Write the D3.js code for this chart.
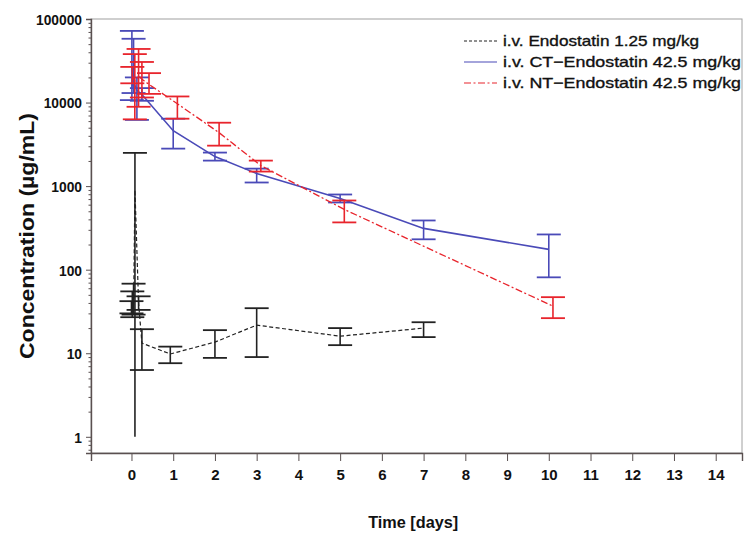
<!DOCTYPE html>
<html>
<head>
<meta charset="utf-8">
<script src="https://cdn.jsdelivr.net/npm/d3@7"></script>
<style>
  html, body { margin: 0; padding: 0; background: #fff; }
  svg { display: block; font-family: "Liberation Sans", Arial, Helvetica, sans-serif; }
</style>
</head>
<body>
<svg id="chart" width="750" height="535"></svg>
<script>
// Serum concentration–time profiles (mean ± SD) for three endostatin formulations.

// i.v. Endostatin 1.25 mg/kg
const endoTime  = [0.00, 0.02, 0.05, 0.083, 0.17, 0.25, 0.93, 2, 3, 5, 7];
const endoMean  = [35, 38, 33, 900, 40, 13.2, 9.8, 13.6, 21.7, 16.0, 20.0];
const endoLow   = [30, 27, 29, 1, 33, 6.3, 7.6, 8.8, 9.0, 12.5, 15.6];
const endoHigh  = [42, 55, 68, 2500, 48, 19.4, 12.0, 18.9, 34.6, 20.0, 23.5];

// i.v. CT-Endostatin 42.5 mg/kg
const ctTime    = [0.01, 0.05, 0.13, 0.25, 1, 2, 3, 5, 7, 10];
const ctMean    = [15500, 17500, 14000, 12500, 4605, 2255, 1415, 711, 312, 175];
const ctLow     = [10700, 13000, 6200, 10500, 2810, 2020, 1105, 637, 231, 81];
const ctHigh    = [72000, 58000, 20000, 14900, 6410, 2520, 1620, 794, 388, 264];

// i.v. NT-Endostatin 42.5 mg/kg
const ntTime    = [0.02, 0.08, 0.17, 0.25, 0.42, 1.1, 2.1, 3.1, 5.1, 10.1];
const ntMean    = [21000, 18000, 21000, 19000, 16500, 9680, 4360, 1762, 526, 36.6];
const ntLow     = [17000, 6300, 8900, 11500, 12700, 6410, 3050, 1494, 368, 26.3];
const ntHigh    = [26700, 38000, 43800, 30600, 22500, 11830, 5740, 2020, 673, 46.9];

const seriesNames = [
  "i.v. Endostatin 1.25 mg/kg",
  "i.v. CT\u2212Endostatin 42.5 mg/kg",
  "i.v. NT\u2212Endostatin 42.5 mg/kg"
];

const xTicks = d3.range(0, 15);
const yTicks = [1, 10, 100, 1000, 10000, 100000];
const yMinorTicks = [];
[0.1, 1, 10, 100, 1000, 10000].forEach(d => [2,3,4,5,6,7,8,9].forEach(m => yMinorTicks.push(d * m)));

// ---- layout ----
const svg = d3.select("#chart");
const plot = { left: 91, top: 19, right: 742, bottom: 453 };

const x = d3.scaleLinear().domain([-0.97, 14.63]).range([plot.left, plot.right]);
const y = d3.scaleLog().domain([0.64, 100000]).range([plot.bottom, plot.top]);

const series = [
  { name: seriesNames[0], t: endoTime, m: endoMean, lo: endoLow, hi: endoHigh,
    color: "#222222", dash: "4,2.5", width: 1.2 },
  { name: seriesNames[1], t: ctTime, m: ctMean, lo: ctLow, hi: ctHigh,
    color: "#4a4ab8", dash: null, width: 1.6 },
  { name: seriesNames[2], t: ntTime, m: ntMean, lo: ntLow, hi: ntHigh,
    color: "#e8242c", dash: "7,2.5,2,2.5", width: 1.3 }
];

// frame
svg.append("rect")
  .attr("x", plot.left).attr("y", plot.top)
  .attr("width", plot.right - plot.left).attr("height", plot.bottom - plot.top)
  .attr("fill", "none").attr("stroke", "#a0a0a0").attr("stroke-width", 1);

// ---- data layers ----
const capHalf = 12;
const floorVal = 1; // lower limits at or below this are clipped without a cap

series.forEach(s => {
  const g = svg.append("g");
  const pts = s.t.map((t, i) => ({ t, m: s.m[i], lo: s.lo[i], hi: s.hi[i] }));

  // error bars
  pts.forEach(p => {
    const cx = x(p.t);
    g.append("line")
      .attr("x1", cx).attr("x2", cx)
      .attr("y1", y(p.hi)).attr("y2", y(p.lo))
      .attr("stroke", s.color).attr("stroke-width", 1.6);
    g.append("line")
      .attr("x1", cx - capHalf).attr("x2", cx + capHalf)
      .attr("y1", y(p.hi)).attr("y2", y(p.hi))
      .attr("stroke", s.color).attr("stroke-width", 1.8);
    if (p.lo > floorVal) {
      g.append("line")
        .attr("x1", cx - capHalf).attr("x2", cx + capHalf)
        .attr("y1", y(p.lo)).attr("y2", y(p.lo))
        .attr("stroke", s.color).attr("stroke-width", 1.8);
    }
  });

  // mean profile
  const line = d3.line().x(d => x(d.t)).y(d => y(d.m));
  g.append("path")
    .datum(pts)
    .attr("d", line)
    .attr("fill", "none")
    .attr("stroke", s.color)
    .attr("stroke-width", s.width)
    .attr("stroke-dasharray", s.dash);
});

// ---- axes ----
const axisColor = "#5a5050";

const yAxis = svg.append("g")
  .attr("transform", `translate(${plot.left},0)`)
  .call(d3.axisLeft(y).tickValues(yTicks).tickFormat(d3.format("d")).tickSize(5).tickPadding(4));
const yMinor = svg.append("g")
  .attr("transform", `translate(${plot.left},0)`)
  .call(d3.axisLeft(y).tickValues(yMinorTicks.filter(v => v >= 0.64 && v <= 100000)).tickFormat("").tickSize(2.5));

const xAxis = svg.append("g")
  .attr("transform", `translate(0,${plot.bottom})`)
  .call(d3.axisBottom(x).tickValues(xTicks).tickFormat(d3.format("d")).tickSize(8).tickPadding(8));

[yAxis, yMinor, xAxis].forEach(a => {
  a.select(".domain").attr("stroke", axisColor).attr("stroke-width", 1.4);
  a.selectAll(".tick line").attr("stroke", axisColor).attr("stroke-width", 1);
  a.selectAll(".tick text")
    .attr("fill", "#111")
    .attr("font-size", 15)
    .attr("font-weight", "bold")
    .attr("font-family", "'Liberation Sans', Arial, sans-serif");
});
yMinor.select(".domain").remove();
yAxis.selectAll(".tick text").attr("dy", "0.36em").attr("transform", "scale(0.92,1)")
  .attr("x", -9 / 0.92);
xAxis.selectAll(".tick text").attr("dy", "0.75em");

// axis titles
svg.append("text")
  .attr("x", x(6.75)).attr("y", 528)
  .attr("text-anchor", "middle")
  .attr("font-size", 16).attr("font-weight", "bold").attr("fill", "#111")
  .attr("textLength", 90).attr("lengthAdjust", "spacingAndGlyphs")
  .text("Time [days]");

svg.append("text")
  .attr("transform", "translate(34,236) rotate(-90)")
  .attr("text-anchor", "middle")
  .attr("font-size", 21).attr("font-weight", "bold").attr("fill", "#111")
  .attr("textLength", 246).attr("lengthAdjust", "spacingAndGlyphs")
  .text("Concentration (\u00b5g/mL)");

// ---- legend ----
const legend = svg.append("g");
const legendWidths = [196, 238, 238];
series.forEach((s, i) => {
  const ly = 41 + i * 21;
  legend.append("line")
    .attr("x1", 464).attr("x2", 497).attr("y1", ly).attr("y2", ly)
    .attr("stroke", s.color).attr("stroke-width", 1.2)
    .attr("stroke-dasharray", i === 0 ? "3,2" : (s.dash));
  legend.append("text")
    .attr("x", 503).attr("y", ly).attr("dy", "0.36em")
    .attr("font-size", 15).attr("fill", "#111")
    .attr("stroke", "#111").attr("stroke-width", 0.35)
    .attr("textLength", legendWidths[i]).attr("lengthAdjust", "spacingAndGlyphs")
    .text(s.name);
});
</script>
</body>
</html>
